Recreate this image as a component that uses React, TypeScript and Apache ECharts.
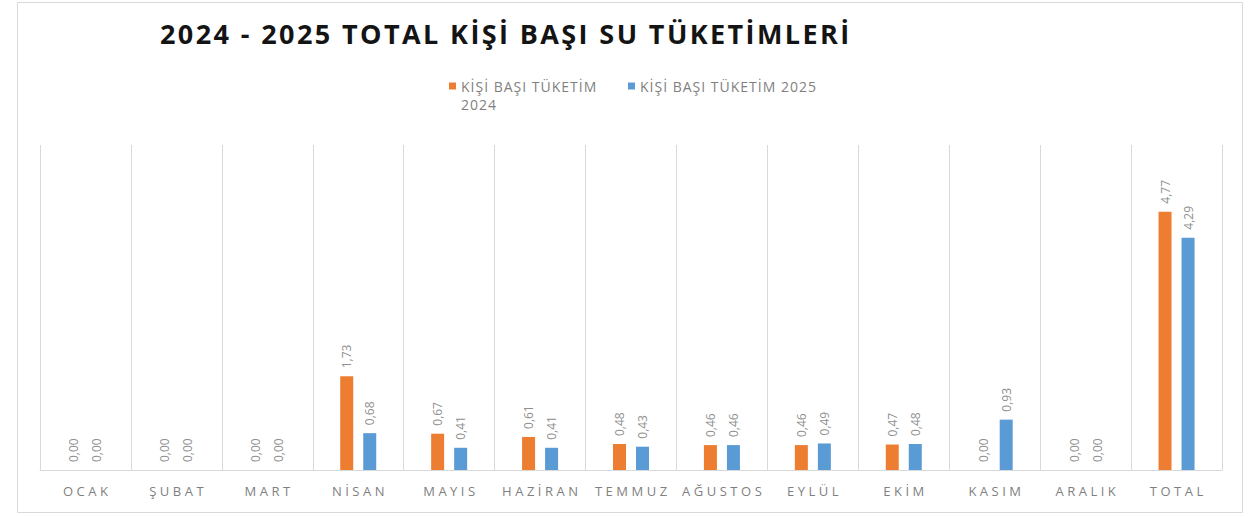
import React, { useEffect, useRef } from "react";
import * as echarts from "echarts";

const categories = ["OCAK", "ŞUBAT", "MART", "NİSAN", "MAYIS", "HAZİRAN", "TEMMUZ", "AĞUSTOS", "EYLÜL", "EKİM", "KASIM", "ARALIK", "TOTAL"];
const values2024 = [0, 0, 0, 1.73, 0.67, 0.61, 0.48, 0.46, 0.46, 0.47, 0, 0, 4.77];
const values2025 = [0, 0, 0, 0.68, 0.41, 0.41, 0.43, 0.46, 0.49, 0.48, 0.93, 0, 4.29];
const name2024 = "KİŞİ BAŞI TÜKETİM 2024";
const name2025 = "KİŞİ BAŞI TÜKETİM 2025";
const legendLines2024 = ["KİŞİ BAŞI TÜKETİM", "2024"];
const titleText = "2024 - 2025 TOTAL KİŞİ BAŞI SU TÜKETİMLERİ";

const fmt = (v: number) => v.toFixed(2).replace(".", ",");

export default function App() {
  const ref = useRef<HTMLDivElement>(null);
  useEffect(() => {
    if (!ref.current) return;
    const el = ref.current;
    const chart = echarts.init(el, undefined, { renderer: "svg" });
    const labelCfg = {
      show: true,
      position: "top",
      rotate: 90,
      align: "left",
      verticalAlign: "middle",
      distance: 8,
      color: "#8f8f8f",
      fontSize: 12,
      fontFamily: "Open Sans",
      formatter: (p: any) => fmt(p.value),
    };
    const legendText = { color: "#7f7f7f", fontSize: 14, fontFamily: "Open Sans", lineHeight: 18 };
    chart.setOption({
      animation: false,
      backgroundColor: "#ffffff",
      title: {
        text: titleText,
        left: 155,
        top: 15,
        textStyle: { fontFamily: "Open Sans", fontWeight: "bold", fontSize: 27, color: "#141414" },
      },
      legend: [
        {
          data: [name2024],
          left: 449,
          top: 59,
          padding: 0,
          itemWidth: 7,
          itemHeight: 7,
          icon: "rect",
          formatter: () => "\n" + legendLines2024.join("\n"),
          textStyle: legendText,
        },
        {
          data: [name2025],
          left: 628,
          top: 77,
          padding: 0,
          itemWidth: 7,
          itemHeight: 7,
          icon: "rect",
          textStyle: legendText,
        },
      ],
      grid: { left: 40, right: 38, top: 145, bottom: 47 },
      xAxis: {
        type: "category",
        data: categories,
        axisLine: { lineStyle: { color: "#d9d9d9" } },
        axisTick: { show: false },
        splitLine: { show: true, lineStyle: { color: "#d9d9d9" } },
        axisLabel: { color: "#7f7f7f", fontSize: 13, fontFamily: "Open Sans", margin: 14 },
      },
      yAxis: { type: "value", min: 0, max: 6, show: false, splitLine: { show: false } },
      graphic: [
        {
          type: "rect",
          shape: { x: 17.5, y: 2.5, width: 1225, height: 510 },
          style: { fill: "none", stroke: "#d9d9d9", lineWidth: 1 },
          silent: true,
        },
      ],
      series: [
        {
          name: name2024,
          type: "bar",
          data: values2024,
          barWidth: 13,
          barGap: "77%",
          itemStyle: { color: "#ED7D31" },
          label: labelCfg,
        },
        {
          name: name2025,
          type: "bar",
          data: values2025,
          barWidth: 13,
          barGap: "77%",
          itemStyle: { color: "#5B9BD5" },
          label: labelCfg,
        },
      ],
    });
    const spacing = () => {
      el.querySelectorAll("text").forEach((t) => {
        const s = (t.textContent || "").trim();
        let ls = 0;
        let centered = false;
        if (s === titleText) ls = 2.4;
        else if (categories.includes(s)) {
          ls = 3.5;
          centered = true;
        } else if (s === name2025 || legendLines2024.includes(s)) ls = 1;
        if (ls) {
          t.setAttribute("letter-spacing", String(ls));
          if (centered) t.setAttribute("dx", String(ls / 2));
        }
      });
    };
    spacing();
    chart.on("finished", spacing);
    return () => chart.dispose();
  }, []);
  return <div ref={ref} style={{ position: "fixed", left: 0, top: 0, width: 1260, height: 517 }} />;
}
